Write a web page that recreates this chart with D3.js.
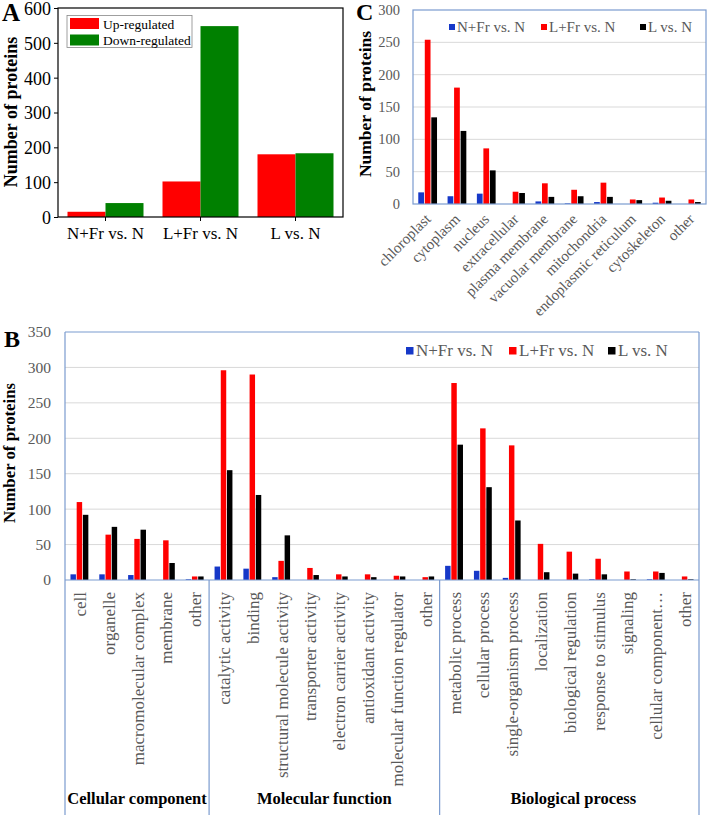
<!DOCTYPE html>
<html><head><meta charset="utf-8">
<script src="https://cdn.jsdelivr.net/npm/d3@7"></script>
<style>body{margin:0;background:#fff}svg{display:block}</style>
</head><body><svg id="c" width="709" height="815" font-family="Liberation Serif"></svg>
<script>
// ---------- Panel A data ----------
const catsA = ["N+Fr vs. N", "L+Fr vs. N", "L vs. N"];
const upA = [15, 102, 180];
const downA = [40, 548, 183];
const ticksA = [0, 100, 200, 300, 400, 500, 600];
const legendA = ["Up-regulated", "Down-regulated"];

// ---------- Panel C data ----------
const catsC = ["chloroplast", "cytoplasm", "nucleus", "extracellular", "plasma membrane",
  "vacuolar membrane", "mitochondria", "endoplasmic reticulum", "cytoskeleton", "other"];
const cNFr = [18, 12, 16, 0, 4, 1, 3, 0, 2, 0];
const cLFr = [254, 180, 86, 19, 32, 22, 33, 7, 10, 7];
const cL = [134, 113, 52, 17, 11, 12, 11, 6, 5, 3];
const ticksC = [0, 50, 100, 150, 200, 250, 300];

// ---------- Panel B data ----------
const catsB = ["cell", "organelle", "macromolecular complex", "membrane", "other",
  "catalytic activity", "binding", "structural molecule activity", "transporter activity",
  "electron carrier activity", "antioxidant activity", "molecular function regulator", "other ",
  "metabolic process", "cellular process", "single-organism process", "localization",
  "biological regulation", "response to stimulus", "signaling", "cellular component…", "other  "];
const groupsB = ["Cellular component", "Molecular function", "Biological process"];
const groupSizesB = [5, 8, 9];
const bNFr = [8, 8, 7, 0, 1, 19, 16, 4, 0, 0, 0, 0, 0, 20, 13, 3, 0, 0, 1, 0, 1, 0];
const bLFr = [110, 64, 58, 56, 5, 296, 290, 27, 17, 8, 8, 6, 4, 278, 214, 190, 51, 40, 30, 12, 12, 5];
const bL = [92, 75, 71, 24, 5, 155, 120, 63, 7, 5, 4, 5, 5, 191, 131, 84, 11, 9, 8, 1, 10, 1];
const ticksB = [0, 50, 100, 150, 200, 250, 300, 350];

const seriesNames = ["N+Fr vs. N", "L+Fr vs. N", "L vs. N"];
const seriesColors = ["#1638c8", "#ff0000", "#000000"];
const frameCol = "#7b9bcf", gridCol = "#d9d9d9", tickCol = "#595959";
const FF = "Liberation Serif";

const svg = d3.select("#c");
function txt(g) { return g.append("text").attr("font-family", FF); }

// ================= Panel A =================
(function(){
  const L = 58, R = 343, T = 8, B = 217;
  const x = d3.scaleBand().domain(catsA).range([L, R]).paddingInner(0.2).paddingOuter(0.1);
  const x1 = d3.scaleBand().domain([0, 1]).range([0, x.bandwidth()]);
  const y = d3.scaleLinear().domain([0, 600]).range([B, T]);
  const g = svg.append("g");
  const cols = ["#ff0000", "#008000"];
  [upA, downA].forEach((arr, si) => {
    g.selectAll(null).data(arr).enter().append("rect")
      .attr("x", (d, i) => x(catsA[i]) + x1(si)).attr("width", x1.bandwidth())
      .attr("y", d => y(d)).attr("height", d => B - y(d)).attr("fill", cols[si]);
  });
  g.append("rect").attr("x", L).attr("y", T).attr("width", R - L).attr("height", B - T)
    .attr("fill", "none").attr("stroke", "#000").attr("stroke-width", 1.2);
  const ya = g.append("g").attr("transform", `translate(${L},0)`)
    .call(d3.axisLeft(y).tickValues(ticksA).tickSize(4).tickPadding(3));
  ya.attr("font-family", FF);
  ya.select(".domain").remove();
  ya.selectAll("text").attr("font-size", 18).attr("fill", "#000").attr("font-family", FF).attr("dy", "0.36em");
  const xa = g.append("g").attr("transform", `translate(0,${B})`)
    .call(d3.axisBottom(x).tickSize(4).tickPadding(6));
  xa.attr("font-family", FF);
  xa.select(".domain").remove();
  xa.selectAll("text").attr("font-size", 17).attr("fill", "#000").attr("font-family", FF);
  txt(g).attr("transform", "translate(17,112) rotate(-90)").attr("text-anchor", "middle")
    .attr("font-size", 18).attr("font-weight", "bold").text("Number of proteins");
  txt(g).attr("x", 2).attr("y", 21).attr("font-size", 25).attr("font-weight", "bold").text("A");
  // legend
  g.append("rect").attr("x", 67).attr("y", 15.5).attr("width", 125).attr("height", 32)
    .attr("fill", "#fff").attr("stroke", "#888").attr("stroke-width", 0.8);
  legendA.forEach((t, i) => {
    g.append("rect").attr("x", 70).attr("y", 18 + i * 16.5).attr("width", 29).attr("height", 11).attr("fill", cols[i]);
    txt(g).attr("x", 103).attr("y", 28.5 + i * 16.5).attr("font-size", 13.5).text(t);
  });
})();

// ================= grouped bar helper =================
function grouped(g, cats, arrs, x, y, base) {
  const x1 = d3.scaleBand().domain([0, 1, 2]).range([0, x.bandwidth()]).paddingInner(0.12);
  arrs.forEach((arr, si) => {
    g.selectAll(null).data(arr).enter().append("rect")
      .attr("x", (d, i) => x(cats[i]) + x1(si)).attr("width", x1.bandwidth())
      .attr("y", d => y(d)).attr("height", d => base - y(d)).attr("fill", seriesColors[si]);
  });
}

// ================= Panel C =================
(function(){
  const L = 413, R = 706, T = 10, B = 204;
  const x = d3.scaleBand().domain(catsC).range([L, R]).paddingInner(0.36).paddingOuter(0.18);
  const y = d3.scaleLinear().domain([0, 300]).range([B, T]);
  const g = svg.append("g");
  g.selectAll(null).data(ticksC.slice(1, -1)).enter().append("line")
    .attr("x1", L).attr("x2", R).attr("y1", d => y(d)).attr("y2", d => y(d)).attr("stroke", gridCol);
  grouped(g, catsC, [cNFr, cLFr, cL], x, y, B);
  g.append("rect").attr("x", L).attr("y", T).attr("width", R - L).attr("height", B - T)
    .attr("fill", "none").attr("stroke", frameCol).attr("stroke-width", 1.2);
  const ya = g.append("g").attr("transform", `translate(${L},0)`)
    .call(d3.axisLeft(y).tickValues(ticksC).tickSize(0).tickPadding(13));
  ya.attr("font-family", FF);
  ya.select(".domain").remove();
  ya.selectAll("text").attr("font-size", 14.5).attr("fill", tickCol).attr("font-family", FF);
  catsC.forEach(c => {
    const cx = x(c) + x.bandwidth() / 2 + 4;
    txt(g).attr("transform", `translate(${cx},220) rotate(-45)`).attr("text-anchor", "end")
      .attr("font-size", 15).attr("fill", tickCol).text(c);
  });
  txt(g).attr("transform", "translate(371,104) rotate(-90)").attr("text-anchor", "middle")
    .attr("font-size", 17.5).attr("font-weight", "bold").text("Number of proteins");
  txt(g).attr("x", 356).attr("y", 20).attr("font-size", 24).attr("font-weight", "bold").text("C");
  const lx = [449, 541, 640];
  seriesNames.forEach((s, i) => {
    g.append("rect").attr("x", lx[i]).attr("y", 24).attr("width", 6).attr("height", 6).attr("fill", seriesColors[i]);
    txt(g).attr("x", lx[i] + 8).attr("y", 31.5).attr("font-size", 15).attr("fill", tickCol).text(s);
  });
})();

// ================= Panel B =================
(function(){
  const L = 65, R = 699, T = 332, B = 580, BOT = 815;
  const x = d3.scaleBand().domain(catsB).range([L, R]).paddingInner(0.38).paddingOuter(0.19);
  const y = d3.scaleLinear().domain([0, 350]).range([B, T]);
  const g = svg.append("g");
  g.selectAll(null).data(ticksB.slice(1, -1)).enter().append("line")
    .attr("x1", L).attr("x2", R).attr("y1", d => y(d)).attr("y2", d => y(d)).attr("stroke", gridCol);
  grouped(g, catsB, [bNFr, bLFr, bL], x, y, B);
  const ln = (x1, y1, x2, y2) => g.append("line").attr("x1", x1).attr("y1", y1).attr("x2", x2).attr("y2", y2)
    .attr("stroke", frameCol).attr("stroke-width", 1.2);
  ln(L, T, R, T); ln(L, T, L, BOT); ln(R, T, R, BOT); ln(L, B, R, B);
  let acc = 0;
  const step = x.step();
  groupSizesB.forEach((n, gi) => {
    const gx0 = L + acc * step, gx1 = L + (acc + n) * step;
    if (gi > 0) ln(gx0, B, gx0, BOT);
    txt(g).attr("x", (gx0 + gx1) / 2 + (gi === 2 ? 4 : 0)).attr("y", 804).attr("text-anchor", "middle")
      .attr("font-size", 16.5).attr("font-weight", "bold").text(groupsB[gi]);
    acc += n;
  });
  const ya = g.append("g").attr("transform", `translate(${L},0)`)
    .call(d3.axisLeft(y).tickValues(ticksB).tickSize(0).tickPadding(14));
  ya.attr("font-family", FF);
  ya.select(".domain").remove();
  ya.selectAll("text").attr("font-size", 15.5).attr("fill", tickCol).attr("font-family", FF);
  catsB.forEach(c => {
    const cx = x(c) + x.bandwidth() / 2 + 6.5;
    txt(g).attr("transform", `translate(${cx},592) rotate(-90)`).attr("text-anchor", "end")
      .attr("font-size", 17).attr("fill", tickCol).text(c.trim());
  });
  txt(g).attr("transform", "translate(15,453) rotate(-90)").attr("text-anchor", "middle")
    .attr("font-size", 16.8).attr("font-weight", "bold").text("Number of proteins");
  txt(g).attr("x", 4).attr("y", 347).attr("font-size", 24).attr("font-weight", "bold").text("B");
  const lx = [406, 509, 608];
  seriesNames.forEach((s, i) => {
    g.append("rect").attr("x", lx[i]).attr("y", 347).attr("width", 7.5).attr("height", 7.5).attr("fill", seriesColors[i]);
    txt(g).attr("x", lx[i] + 10).attr("y", 356).attr("font-size", 17).attr("fill", tickCol).text(s);
  });
})();
</script></body></html>
